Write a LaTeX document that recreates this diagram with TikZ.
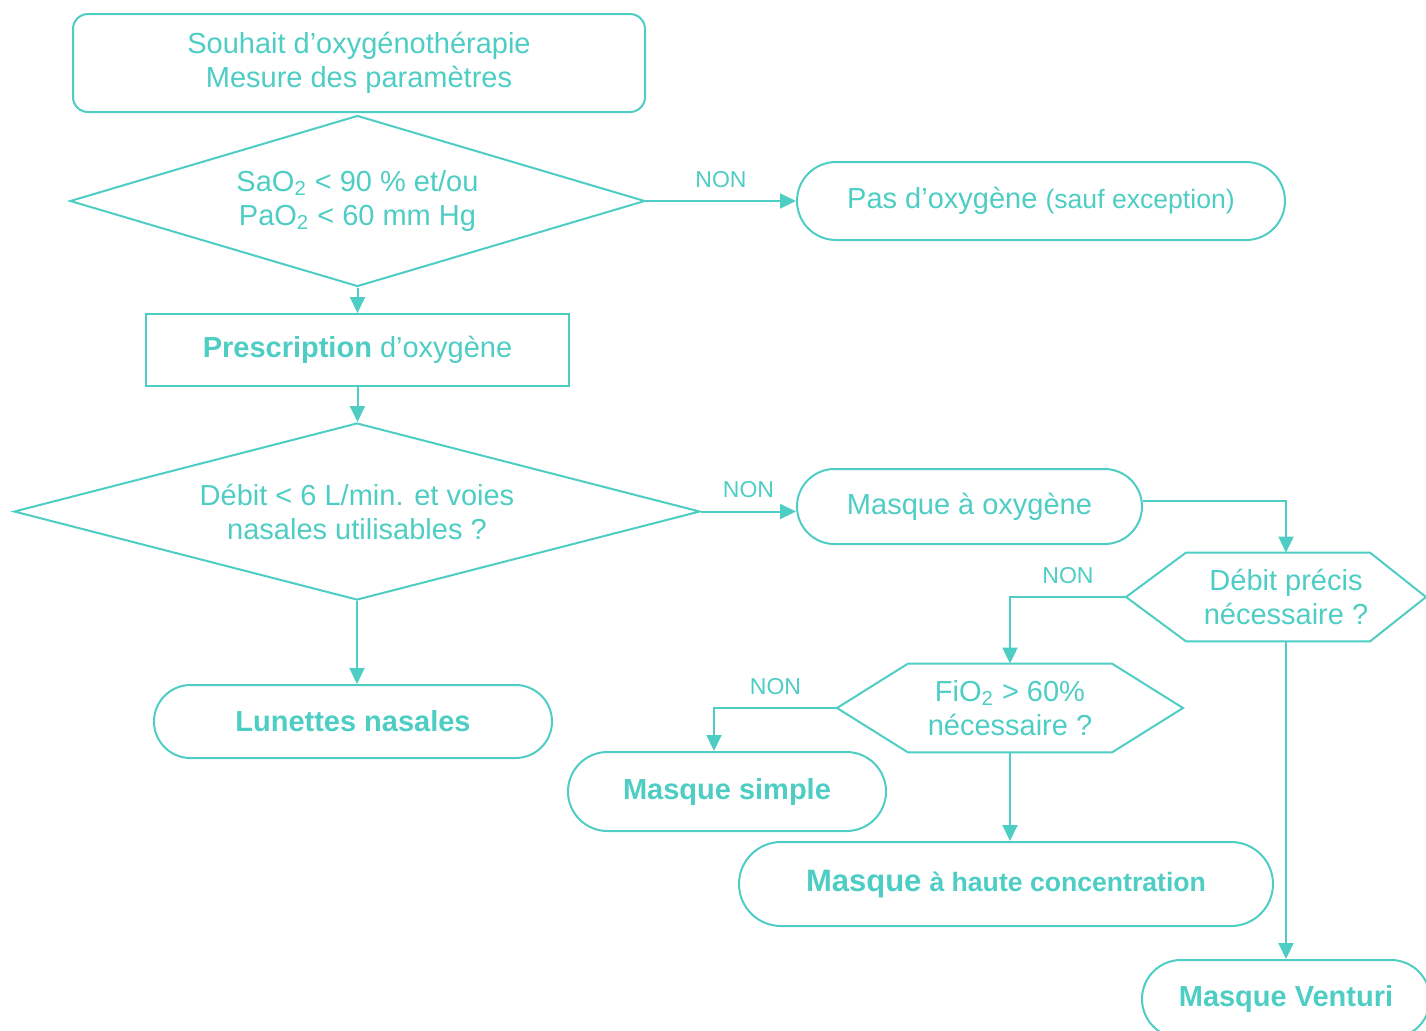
\documentclass[tikz,border=0pt]{standalone}
\usepackage{fontspec}
\setmainfont{Liberation Sans}
\usepackage{xcolor}
\usepackage{tikz}
\usetikzlibrary{arrows.meta, shapes.geometric, shapes.misc, positioning, calc}
\definecolor{oxy}{RGB}{78,205,196}

\begin{document}
\begin{tikzpicture}[
  x=0.5pt, y=-0.5pt,
  font=\fontsize{14.5}{17}\selectfont,
  every node/.style={text=oxy},
  box/.style={draw=oxy, line width=1pt, align=center, inner sep=0pt},
  cond/.style={box, diamond},
  capsule/.style={box, rounded rectangle},
  hexa/.style={draw=oxy, line width=1pt},
  flow/.style={draw=oxy, line width=1pt, -{Triangle[length=8pt,width=7.5pt]}},
  non/.style={font=\fontsize{11.5}{13}\selectfont, above=3pt}
]
  \useasboundingbox (0,0) rectangle (1426,1030);

  \node[box, rounded corners=7.5pt, minimum width=286pt, minimum height=49pt] (start) at (359,63) {Souhait d’oxygénothérapie\\Mesure des paramètres};
  \node[cond, aspect=3.4, minimum width=287.5pt, minimum height=85.5pt] (test) at (357.5,201) {SaO\textsubscript{2} < 90 \% et/ou\\PaO\textsubscript{2} < 60 mm Hg};
  \node[capsule, minimum width=244pt, minimum height=39pt] (none) at (1041,201) {Pas d’oxygène {\fontsize{13.3}{16}\selectfont(sauf exception)}};
  \node[box, minimum width=211.5pt, minimum height=36pt] (presc) at (357.5,350) {\textbf{Prescription} d’oxygène};
  \node[cond, aspect=3.9, minimum width=343pt, minimum height=88.5pt] (debit) at (357,511.5) {Débit < 6 L/min. et voies\\nasales utilisables ?};
  \node[capsule, minimum width=199pt, minimum height=36.5pt] (lunettes) at (353,721.5) {\bfseries Lunettes nasales};
  \node[capsule, minimum width=172.5pt, minimum height=37.5pt] (mask) at (969.5,506.5) {Masque à oxygène};

  \node[align=center, inner sep=0pt, minimum height=44pt] (precis) at (1286,597) {Débit précis\\nécessaire ?};
  \draw[hexa] ([xshift=-80pt]precis.center) -- ([xshift=-50pt]precis.north) -- ([xshift=42pt]precis.north)
    -- ([xshift=70pt]precis.center) -- ([xshift=42pt]precis.south) -- ([xshift=-50pt]precis.south) -- cycle;
  \coordinate (precis-w) at ([xshift=-80pt]precis.center);

  \node[align=center, inner sep=0pt, minimum height=44pt] (fio) at (1010,708) {FiO\textsubscript{2} > 60\%\\nécessaire ?};
  \draw[hexa] ([xshift=-86.5pt]fio.center) -- ([xshift=-51pt]fio.north) -- ([xshift=51pt]fio.north)
    -- ([xshift=86.5pt]fio.center) -- ([xshift=51pt]fio.south) -- ([xshift=-51pt]fio.south) -- cycle;
  \coordinate (fio-w) at ([xshift=-86.5pt]fio.center);

  \node[capsule, minimum width=159pt, minimum height=39.5pt] (simple) at (727,791.5) {\bfseries Masque simple};
  \node[capsule, minimum width=267pt, minimum height=42pt] (conc) at (1006,884) {{\fontsize{15.5}{18}\selectfont\bfseries Masque} {\fontsize{13.3}{16}\selectfont\bfseries à haute concentration}};
  \node[capsule, minimum width=144pt, minimum height=39pt] (venturi) at (1286,999) {\bfseries Masque Venturi};

  \draw[flow] (test.east) -- node[non] {NON} (none.west);
  \draw[flow] (test.south) -- (presc.north);
  \draw[flow] (presc.south) -- (presc.south |- debit.north);
  \draw[flow] (debit.east) -- node[non] {NON} (debit.east -| mask.west);
  \draw[flow] (debit.south) -- (debit.south |- lunettes.north);
  \draw[flow] ([yshift=3pt]mask.east) -| (precis.north);
  \draw[flow] (precis-w) -| node[non, pos=0.25] {NON} (fio.north);
  \draw[flow] (precis.south) -- (venturi.north);
  \draw[flow] (fio-w) -| node[non, pos=0.25] {NON} ([xshift=-6.5pt]simple.north);
  \draw[flow] (fio.south) -- (fio.south |- conc.north);
\end{tikzpicture}
\end{document}
